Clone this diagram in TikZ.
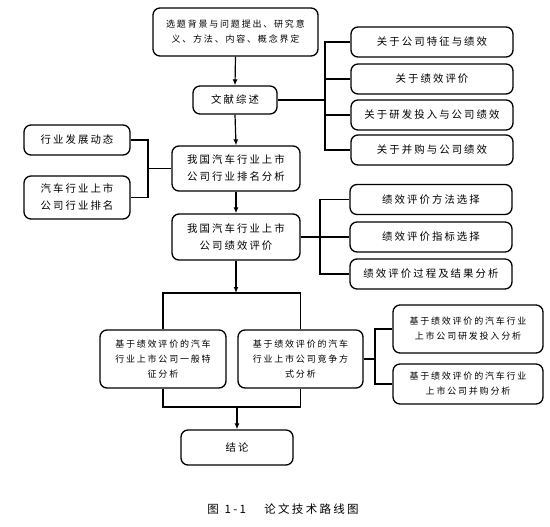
\documentclass[tikz,border=0pt]{standalone}
\usepackage{fontspec}
\newfontfamily\cjk[LetterSpace=20]{Noto Sans CJK SC}
\usetikzlibrary{arrows.meta}
\begin{document}
\begin{tikzpicture}[x=1pt,y=-1pt,
  box/.style={draw, line width=1.3pt, rounded corners=7pt, align=center, inner sep=0pt,
    font=\cjk\fontsize{10.4}{17}\selectfont},
  sbox/.style={box, font=\cjk\fontsize{9}{15}\selectfont},
  conn/.style={line width=1.2pt},
  arr/.style={conn, -{Latex[length=6pt,width=5pt]}}]
\useasboundingbox (0,0) rectangle (550,527);

% nodes
\node[sbox, minimum width=165pt, minimum height=48pt] (top) at (235.5,32) {选题背景与问题提出、研究意\\义、方法、内容、概念界定};
\node[box, minimum width=84pt, minimum height=28pt] (lit) at (235,100) {文献综述};
\node[box, minimum width=162pt, minimum height=30pt] (r1) at (432,42) {关于公司特征与绩效};
\node[box, minimum width=162pt, minimum height=30pt] (r2) at (432,79) {关于绩效评价};
\node[box, minimum width=162pt, minimum height=30pt] (r3) at (432,115) {关于研发投入与公司绩效};
\node[box, minimum width=162pt, minimum height=30pt] (r4) at (432,150) {关于并购与公司绩效};

\node[box, minimum width=128pt, minimum height=45pt] (rank) at (236,168.5) {我国汽车行业上市\\公司行业排名分析};
\node[box, minimum width=106pt, minimum height=30pt] (l1) at (77,140) {行业发展动态};
\node[box, minimum width=106pt, minimum height=43pt] (l2) at (77,197.5) {汽车行业上市\\公司行业排名};

\node[box, minimum width=128pt, minimum height=46pt] (perf) at (236,237) {我国汽车行业上市\\公司绩效评价};
\node[box, minimum width=162pt, minimum height=30pt] (p1) at (431,199.5) {绩效评价方法选择};
\node[box, minimum width=162pt, minimum height=30pt] (p2) at (431,237) {绩效评价指标选择};
\node[box, minimum width=162pt, minimum height=30pt] (p3) at (431,274) {绩效评价过程及结果分析};

\node[sbox, minimum width=126pt, minimum height=58pt] (g1) at (163,359) {基于绩效评价的汽车\\行业上市公司一般特\\征分析};
\node[sbox, minimum width=125pt, minimum height=58pt] (g2) at (300.5,359) {基于绩效评价的汽车\\行业上市公司竞争方\\式分析};
\node[sbox, minimum width=150pt, minimum height=48pt] (s1) at (468,329) {基于绩效评价的汽车行业\\上市公司研发投入分析};
\node[sbox, minimum width=150pt, minimum height=40pt] (s2) at (468,384) {基于绩效评价的汽车行业\\上市公司并购分析};

\node[box, minimum width=112pt, minimum height=35pt] (con) at (237,447.5) {结论};
\node[font=\cjk\fontsize{11.5}{13}\selectfont] (cap) at (283,509) {图\hspace{0.5em}1-1\hspace{1.6em}论文技术路线图};

% coordinates
\coordinate (bL) at (325,100);
\coordinate (jL) at (148,168.5);
\coordinate (bP) at (320,237);
\coordinate (split) at (236,293);
\coordinate (join) at (237,407);
\coordinate (bS) at (375,359);

% connectors
\draw[arr] (top.south) -- (lit.north);
\draw[conn] (lit.east) -- (bL);
\draw[conn] (r1.west) -- (r1.west -| bL) -- (r4.west -| bL) -- (r4.west);
\draw[conn] (r2.west) -- (r2.west -| bL);
\draw[conn] (r3.west) -- (r3.west -| bL);

\draw[arr] (lit.south) -- (rank.north);
\draw[conn] (l1.east) -- (l1.east -| jL) -- (l2.east -| jL) -- (l2.east);
\draw[conn] (jL) -- (rank.west);

\draw[arr] (rank.south) -- (perf.north);
\draw[conn] (perf.east) -- (bP);
\draw[conn] (p1.west) -- (p1.west -| bP) -- (p3.west -| bP) -- (p3.west);
\draw[conn] (p2.west) -- (p2.west -| bP);

\draw[arr] (perf.south) -- (split);
\draw[conn] (g1.north) -- (g1.north |- split) -- (g2.north |- split) -- (g2.north);
\draw[conn] (g1.south) -- (g1.south |- join) -- (g2.south |- join) -- (g2.south);
\draw[arr] (join) -- (con.north);

\draw[conn] (g2.east) -- (bS);
\draw[conn] (s1.west) -- (s1.west -| bS) -- (s2.west -| bS) -- (s2.west);
\end{tikzpicture}
\end{document}
